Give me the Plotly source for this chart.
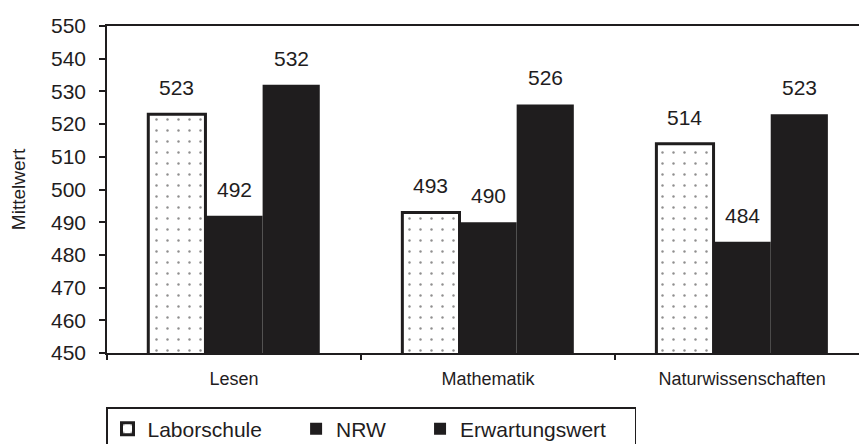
import plotly.graph_objects as go

# PISA-Mittelwerte nach Kompetenzbereich
categories = ["Lesen", "Mathematik", "Naturwissenschaften"]
laborschule = [523, 493, 514]
nrw = [492, 490, 484]
erwartungswert = [532, 526, 523]
series_names = ["Laborschule", "NRW", "Erwartungswert"]

y_ticks = list(range(450, 551, 10))

FONT = "Liberation Sans, Arial, sans-serif"
INK = "#1f1d1e"

W, H = 859, 444
M_L, M_R, M_T, M_B = 107, 0, 26, 91
X_RANGE = [-0.5, 2.46]
BARGAP = 0.325

# legend entries get a little trailing room so the items spread out
PAD = "\u00a0" * 5
legend_names = [series_names[0] + PAD, series_names[1] + PAD,
                series_names[2] + "\u00a0" * 4]

fig = go.Figure()

fig.add_trace(go.Bar(
    name=legend_names[0], x=categories, y=laborschule,
    marker=dict(
        color="white",
        line=dict(color=INK, width=3),
        pattern=dict(shape=".", fgcolor=INK, bgcolor="white",
                     size=11, solidity=0.04),
    ),
))
fig.add_trace(go.Bar(
    name=legend_names[1], x=categories, y=nrw,
    marker=dict(color=INK, line=dict(color=INK, width=0)),
))
fig.add_trace(go.Bar(
    name=legend_names[2], x=categories, y=erwartungswert,
    marker=dict(color=INK, line=dict(color=INK, width=0)),
))

# value labels above each bar, shifted sideways to the bar's slot in the group
plot_w = W - M_L - M_R
cat_px = plot_w / (X_RANGE[1] - X_RANGE[0])
bar_px = cat_px * (1 - BARGAP) / 3
for i, values in enumerate([laborschule, nrw, erwartungswert]):
    for cat, v in zip(categories, values):
        fig.add_annotation(
            x=cat, y=v, text=str(v), showarrow=False,
            xanchor="center", yanchor="bottom",
            xshift=(i - 1) * bar_px, yshift=13,
            font=dict(family=FONT, size=21, color=INK),
        )

fig.update_layout(
    width=W, height=H,
    margin=dict(l=M_L, r=M_R, t=M_T, b=M_B),
    paper_bgcolor="white", plot_bgcolor="white",
    barmode="group", bargap=BARGAP, bargroupgap=0,
    font=dict(family=FONT, color=INK),
    showlegend=True,
    legend=dict(
        orientation="h", xref="container", yref="container",
        x=106 / W, y=1 - 407 / H,
        xanchor="left", yanchor="top",
        bordercolor=INK, borderwidth=1.5,
        font=dict(family=FONT, size=21, color=INK),
        itemclick=False,
    ),
    xaxis=dict(
        type="category", range=X_RANGE,
        tickson="boundaries", ticks="outside", ticklen=5,
        tickcolor=INK, tickwidth=1.5,
        showline=True, linecolor=INK, linewidth=1.5, mirror=True,
        showgrid=False,
        tickfont=dict(family=FONT, size=18, color=INK),
        ticklabelstandoff=9,
    ),
    yaxis=dict(
        range=[450, 550], tickvals=y_ticks,
        ticks="outside", ticklen=6, tickcolor=INK, tickwidth=1.5,
        showline=True, linecolor=INK, linewidth=1.5,
        showgrid=False, zeroline=False,
        tickfont=dict(family=FONT, size=21, color=INK),
        ticklabelstandoff=9,
        title=dict(text="Mittelwert", standoff=20,
                   font=dict(family=FONT, size=19, color=INK)),
    ),
)

fig.write_html("out.html")
